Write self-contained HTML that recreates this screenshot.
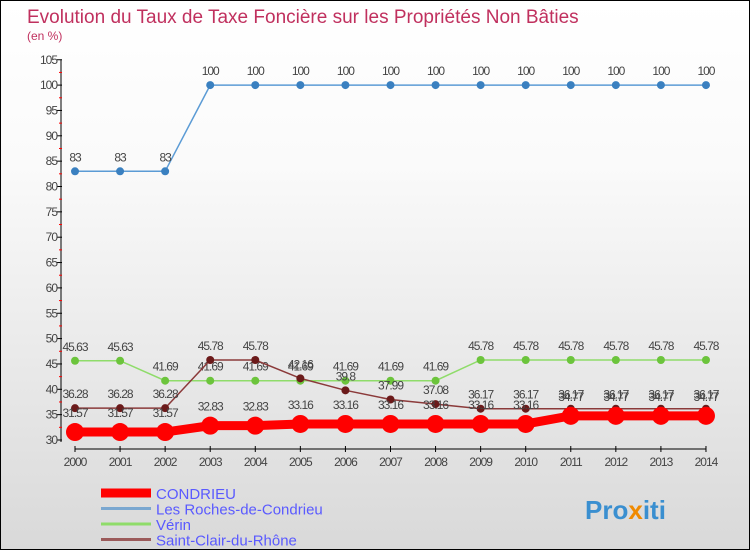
<!DOCTYPE html>
<html><head><meta charset="utf-8"><style>
body{margin:0}
#c{width:748px;height:548px;border:1px solid #000;background:linear-gradient(#fff,#fafafa 30%,#d9d9d9);position:relative;font-family:"Liberation Sans",sans-serif}
</style></head><body>
<div id="c">
<svg id="s" width="748" height="548"></svg>
</div>
<script>
const years=[2000,2001,2002,2003,2004,2005,2006,2007,2008,2009,2010,2011,2012,2013,2014];
const condrieu=[31.57,31.57,31.57,32.83,32.83,33.16,33.16,33.16,33.16,33.16,33.16,34.77,34.77,34.77,34.77];
const roches=[83,83,83,100,100,100,100,100,100,100,100,100,100,100,100];
const verin=[45.63,45.63,41.69,41.69,41.69,41.69,41.69,41.69,41.69,45.78,45.78,45.78,45.78,45.78,45.78];
const stclair=[36.28,36.28,36.28,45.78,45.78,42.16,39.8,37.99,37.08,36.17,36.17,36.17,36.17,36.17,36.17];
const yTicks=[30,35,40,45,50,55,60,65,70,75,80,85,90,95,100,105];
const names=["CONDRIEU","Les Roches-de-Condrieu","Vérin","Saint-Clair-du-Rhône"];
const NS="http://www.w3.org/2000/svg",s=document.getElementById('s');
const X=i=>74+i*45.07, Y=v=>439-(v-30)*5.07;
function el(t,a,p){const e=document.createElementNS(NS,t);for(const k in a)e.setAttribute(k,a[k]);(p||s).appendChild(e);return e;}
function tx(x,y,str,a,p){const e=el('text',Object.assign({x:x,y:y},a),p);e.textContent=str;return e;}
let t=tx(26,22,"Evolution du Taux de Taxe Foncière sur les Propriétés Non Bâties",{fill:"#c0305e","font-size":19});

t=tx(26,39,"(en %)",{fill:"#c0305e","font-size":12});

let a=el('line',{x1:60,y1:59,x2:60,y2:441,stroke:"#000"});
yTicks.forEach((v,i)=>{el('line',{x1:56,x2:61,y1:Y(v),y2:Y(v),stroke:"#000"});
 if(i<yTicks.length-1)el('line',{x1:58,x2:61,y1:Y(v+2.5),y2:Y(v+2.5),stroke:"red"});
 const l=tx(56,Y(v)+4,v,{fill:"#444","font-size":12,"text-anchor":"end","letter-spacing":"-1"});
 });
a=el('line',{x1:X(0),y1:448,x2:X(14),y2:448,stroke:"#000"});
years.forEach((y,i)=>{el('line',{x1:X(i),x2:X(i),y1:445,y2:451,stroke:"#000"});
 const l=tx(X(i),465,y,{fill:"#444","font-size":12,"text-anchor":"middle","letter-spacing":"-1"});
 });
const series=[[roches,"#5b9bd5","#3a80c0",1.5,4,"roches"],[verin,"#8fdc6a","#6cc43c",1.5,4,"verin"],[stclair,"#8b3a3a","#6b1a1a",1.5,4,"saint-clair"],[condrieu,"#ff0000","#ff0000",9,9,"condrieu"]];
series.forEach(([d,c,mc,w,r,n])=>{
 const g=el('g',{});
 el('polyline',{points:d.map((v,i)=>X(i)+","+Y(v)).join(" "),fill:"none",stroke:c,"stroke-width":w},g);
 d.forEach((v,i)=>{const p=el('circle',{cx:X(i),cy:Y(v),r:r,fill:mc},g);
  
  const l=tx(X(i),Y(v)-(r+6),String(v),{fill:"#444","font-size":12,"text-anchor":"middle","letter-spacing":"-1"},g);
  });
});
const lc=["#ff0000","#7aa7d0","#8fdc6a","#9b5a5a"],lw=[9,3,3,3];
names.forEach((n,i)=>{const y=492+i*15.5;
 const g=el('g',{});
 el('line',{x1:100,x2:150,y1:y,y2:y,stroke:lc[i],"stroke-width":lw[i]},g);
 tx(155,y+6,n,{fill:"#5a5aff","font-size":15},g);});
t=el('text',{x:584,y:518,"font-size":26,"font-weight":"bold"});

t.innerHTML='<tspan fill="#3a8fd0">Pro</tspan><tspan fill="#f08a00">x</tspan><tspan fill="#3a8fd0">iti</tspan>';
</script>
</body></html>
